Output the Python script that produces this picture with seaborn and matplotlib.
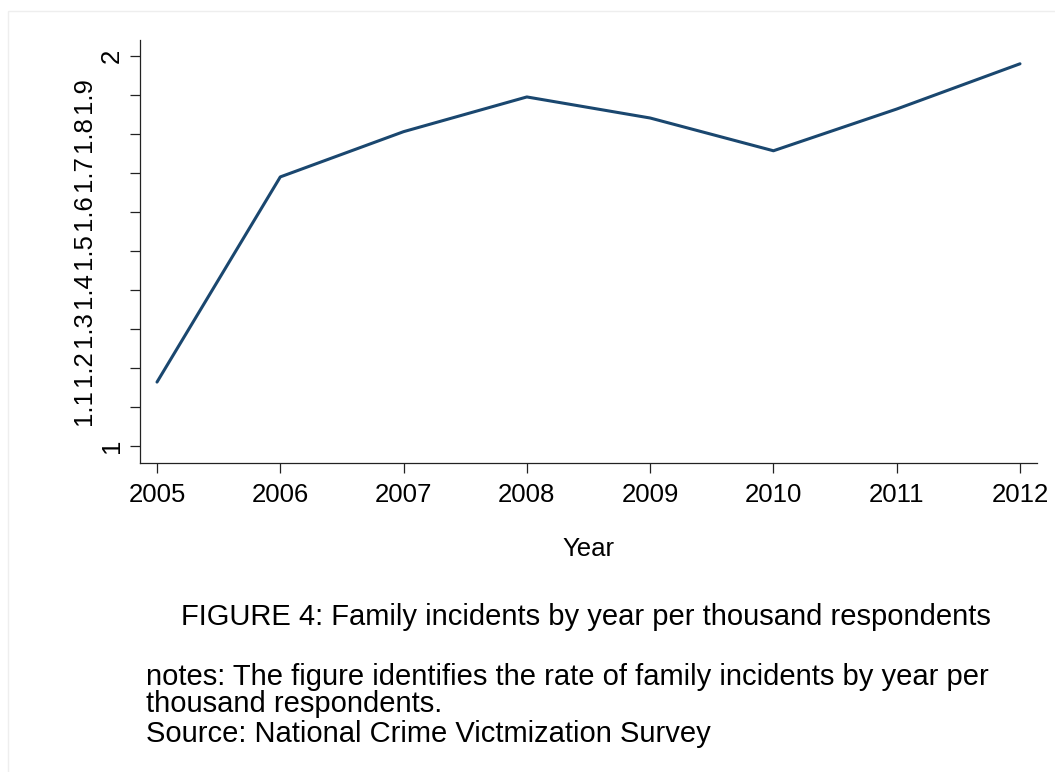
import pandas as pd
import matplotlib.pyplot as plt
import matplotlib.patches as mpatches
import seaborn as sns

years = [2005, 2006, 2007, 2008, 2009, 2010, 2011, 2012]
rates = [1.164, 1.690, 1.806, 1.895, 1.841, 1.757, 1.864, 1.980]
major_ticks = [1, 2]
minor_ticks = [1.1, 1.2, 1.3, 1.4, 1.5, 1.6, 1.7, 1.8, 1.9]

caption = 'FIGURE 4: Family incidents by year per thousand respondents'
notes = ['notes: The figure identifies the rate of family incidents by year per',
         'thousand respondents.',
         'Source: National Crime Victmization Survey']

df = pd.DataFrame({'Year': years, 'Rate': rates})

sns.set_theme(style="ticks")
plt.rcParams['font.family'] = ['Liberation Sans', 'DejaVu Sans']
plt.rcParams.update({'text.color': 'black', 'axes.labelcolor': 'black',
                     'xtick.color': '#222222', 'ytick.color': '#222222'})
FS = 18.5
FS_CAP = 21
LINE_COLOR = '#1a476f'

fig = plt.figure(figsize=(10.55, 7.72), dpi=100)
fig.patches.append(mpatches.Rectangle((8 / 1055, -0.1), 1.2, (772 - 11) / 772 + 0.1,
                                      transform=fig.transFigure, fill=False,
                                      edgecolor='#eeeeee', linewidth=1))
ax = fig.add_axes([140 / 1055, (772 - 463) / 772, 897 / 1055, 423 / 772])

sns.lineplot(data=df, x='Year', y='Rate', color=LINE_COLOR, linewidth=2.2, ax=ax)

ax.set_xlim(2004.862, 2012.138)
ax.set_ylim(0.9565, 2.041)
ax.set_xticks(years)
ax.set_xticklabels([str(y) for y in years])
ax.set_yticks(major_ticks)
ax.set_yticklabels([str(t) for t in major_ticks], rotation=90, va='center')
ax.set_yticks(minor_ticks, minor=True)
ax.set_yticklabels([f'{t:.1f}' for t in minor_ticks], minor=True, rotation=90, va='center')

ax.tick_params(axis='both', which='both', length=7.5, width=0.9,
               labelsize=FS, labelcolor='black')
ax.tick_params(axis='x', pad=7)
ax.tick_params(axis='y', which='major', pad=4)
ax.tick_params(axis='y', which='minor', pad=24)

ax.set_xlabel('Year', fontsize=FS, labelpad=21.5)
ax.set_ylabel('')
sns.despine(ax=ax)
for s in ['left', 'bottom']:
    ax.spines[s].set_linewidth(0.9)
    ax.spines[s].set_color('#222222')

fig.text(586 / 1055, (772 - 625) / 772, caption,
         ha='center', va='baseline', fontsize=FS_CAP)
for line, yb in zip(notes, [685, 712, 742]):
    fig.text(146 / 1055, (772 - yb) / 772, line, ha='left', va='baseline', fontsize=FS_CAP)

plt.savefig('out.png', dpi=100)
plt.close()
